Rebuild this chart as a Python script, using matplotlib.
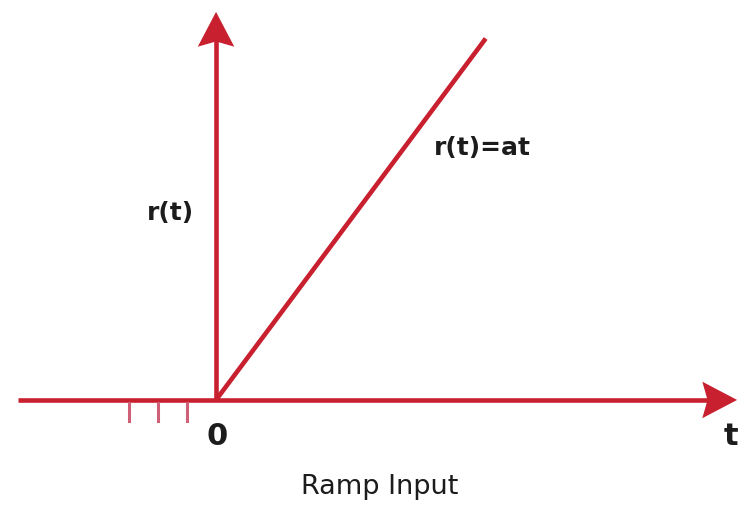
import numpy as np
import matplotlib
matplotlib.use('Agg')
import matplotlib.pyplot as plt

# ramp r(t) = a*t, drawn in plot units (1 unit ~ 29 px)
a = 1.34
t_ramp = [0, 9.3]
r_ramp = [a * t for t in t_ramp]
tick_t = [-3, -2, -1]
t_axis = [-6.83, 17.97]
r_axis = [0, 13.38]

red = '#c8202f'
tick_red = '#cf6078'
ink = '#1c1c1c'

fig = plt.figure(figsize=(7.49, 5.09), dpi=100)
ax = fig.add_axes([0, 0, 1, 1])
ax.set_xlim(-7.45, 18.38)
ax.set_ylim(-3.76, 13.79)
ax.axis('off')


def arrow_head(tip, direction, L=1.2, W=0.63, notch=0.18):
    # slightly swept-back arrow head pointing along direction
    d = np.array(direction, float)
    n = np.array([-d[1], d[0]])
    tip = np.array(tip, float)
    pts = np.array([tip, tip - L * d + W * n, tip - (L - notch) * d, tip - L * d - W * n])
    ax.fill(pts[:, 0], pts[:, 1], color=red, lw=0, zorder=3)


# axes
ax.plot([t_axis[0], t_axis[1] - 0.9], [0, 0], color=red, lw=3.3, solid_capstyle='butt')
ax.plot([0, 0], [r_axis[0], r_axis[1] - 0.9], color=red, lw=3.3, solid_capstyle='butt')
arrow_head((t_axis[1], 0), (1, 0))
arrow_head((0, r_axis[1]), (0, 1))

# ramp line
ax.plot(t_ramp, r_ramp, color=red, lw=3.3, solid_capstyle='butt')

# little ticks on the negative side
for t in tick_t:
    ax.plot([t, t], [-0.1, -0.72], color=tick_red, lw=2.2)

fnt = 'DejaVu Sans'
ax.text(9.17, 8.7, 'r(t)=at', fontsize=18, fontweight='bold', family=fnt, color=ink,
        ha='center', va='center')
ax.text(-1.58, 6.45, 'r(t)', fontsize=18, fontweight='bold', family=fnt, color=ink,
        ha='center', va='center')
ax.text(0.05, -1.25, '0', fontsize=22, fontweight='bold', family=fnt, color=ink,
        ha='center', va='center')
ax.text(17.75, -1.25, 't', fontsize=22, fontweight='bold', family=fnt, color=ink,
        ha='center', va='center')
ax.text(5.65, -3.0, 'Ramp Input', fontsize=19.5, family=fnt, color=ink,
        ha='center', va='center')

plt.savefig('out.png', dpi=100)
